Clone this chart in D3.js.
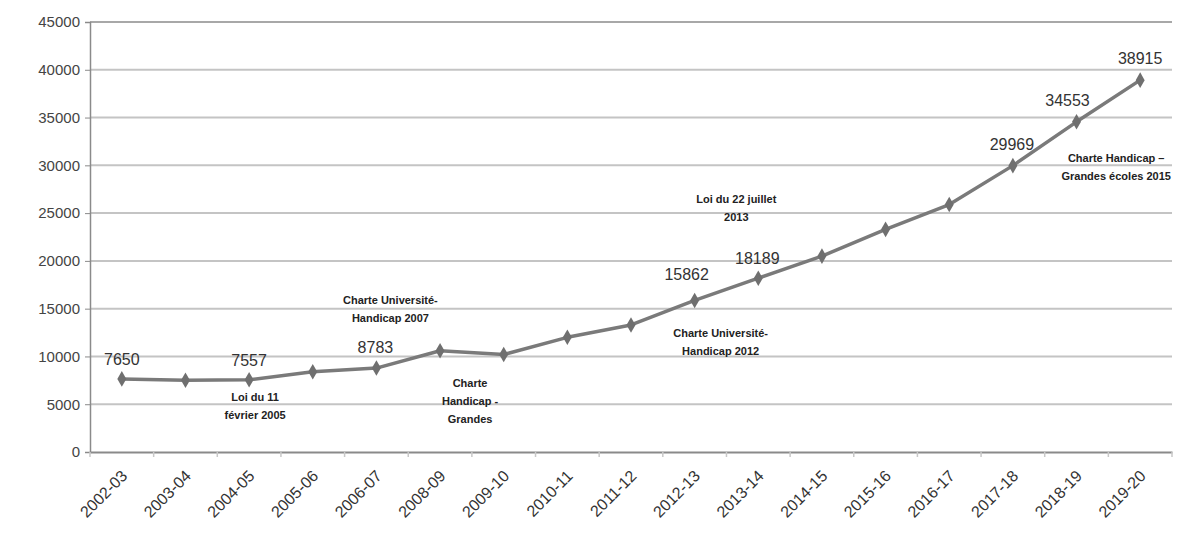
<!DOCTYPE html>
<html><head><meta charset="utf-8">
<script src="https://cdn.jsdelivr.net/npm/d3@7"></script>
<style>body{margin:0;background:#fff}svg{display:block}</style>
</head><body>
<svg id="c" width="1196" height="535"></svg>
<script>
const categories = ["2002-03","2003-04","2004-05","2005-06","2006-07","2008-09","2009-10","2010-11","2011-12","2012-13","2013-14","2014-15","2015-16","2016-17","2017-18","2018-19","2019-20"];
const values = [7650,7500,7557,8400,8783,10600,10200,12000,13300,15862,18189,20500,23300,25900,29969,34553,38915];
const labelled = ["2002-03","2004-05","2006-07","2012-13","2013-14","2017-18","2018-19","2019-20"];
const yTicks = [0,5000,10000,15000,20000,25000,30000,35000,40000,45000];
const annotations = [
  {at:"2004-05", lines:["Loi du 11","février 2005"], v:5300, dx:6},
  {at:"2006-07", lines:["Charte Université-","Handicap 2007"], v:15500, dx:14},
  {at:"2008-09", lines:["Charte","Handicap -","Grandes"], v:6800, dx:30},
  {at:"2012-13", lines:["Charte Université-","Handicap 2012"], v:12000, dx:26},
  {at:"2013-14", lines:["Loi du 22 juillet","2013"], v:26100, dx:-22},
  {at:"2019-20", lines:["Charte Handicap –","Grandes écoles 2015"], v:30300, dx:-24}
];
const labelOffsets = {"2002-03":[0,-14],"2004-05":[0,-14],"2006-07":[-1,-15],"2012-13":[-8,-20],"2013-14":[-1,-14],"2017-18":[-1,-16],"2018-19":[-9,-16],"2019-20":[0,-16]};

const svg = d3.select("#c");
const L=90,R=1172,T=22,B=452;
const x = d3.scalePoint().domain(categories).range([L,R]).padding(0.5);
const y = d3.scaleLinear().domain([0,45000]).range([B,T]);

svg.append("g").selectAll("line").data(yTicks.filter(d=>d>0)).join("line")
  .attr("x1",L).attr("x2",R).attr("y1",d=>y(d)).attr("y2",d=>y(d))
  .attr("stroke",d=>d===45000?"#a8a8a8":"#c4c4c4").attr("stroke-width",2);

const ya = svg.append("g").attr("transform",`translate(${L},0)`).call(d3.axisLeft(y).tickValues(yTicks).tickSize(5).tickFormat(d3.format("d")));
ya.select(".domain").attr("stroke","#8a8a8a").attr("stroke-width",1.5);
ya.selectAll(".tick line").attr("stroke","#8a8a8a");
ya.selectAll("text").attr("font-family","Liberation Sans, Arial, sans-serif").attr("font-size",15).attr("fill","#444").attr("x",-10);

const xa = svg.append("g").attr("transform",`translate(0,${B})`).call(d3.axisBottom(x).tickSize(0));
xa.select(".domain").attr("stroke","#8a8a8a").attr("stroke-width",2);
xa.selectAll(".tick text").attr("font-family","Liberation Sans, Arial, sans-serif").attr("font-size",16).attr("fill","#333")
  .attr("text-anchor","end").attr("dy",0).attr("y",0)
  .attr("transform","translate(6,25) rotate(-45)");
const step = x.step();
svg.append("g").selectAll("line").data(d3.range(categories.length+1)).join("line")
  .attr("x1",i=>L+i*step).attr("x2",i=>L+i*step).attr("y1",B).attr("y2",B+5)
  .attr("stroke","#c8c8c8").attr("stroke-width",1.5);

const line = d3.line().x((d,i)=>x(categories[i])).y(d=>y(d));
svg.append("path").datum(values).attr("d",line).attr("fill","none").attr("stroke","#7a7a7a").attr("stroke-width",3.5).attr("stroke-linejoin","round");
svg.append("g").selectAll("path").data(values).join("path")
  .attr("d",d3.symbol(d3.symbolDiamond,70))
  .attr("transform",(d,i)=>`translate(${x(categories[i])},${y(d)})`)
  .attr("fill","#6f6f6f");

svg.append("g").selectAll("text").data(labelled).join("text")
  .attr("x",c=>x(c)+labelOffsets[c][0])
  .attr("y",c=>y(values[categories.indexOf(c)])+labelOffsets[c][1])
  .attr("text-anchor","middle").attr("font-family","Liberation Sans, Arial, sans-serif")
  .attr("font-size",16).attr("fill","#333")
  .text(c=>values[categories.indexOf(c)]);

const ag = svg.append("g");
annotations.forEach(a=>{
  const t = ag.append("text").attr("text-anchor","middle")
    .attr("font-family","Liberation Sans, Arial, sans-serif").attr("font-weight","bold")
    .attr("font-size",11).attr("fill","#222");
  a.lines.forEach((s,i)=>t.append("tspan").attr("x",x(a.at)+a.dx).attr("y",y(a.v)+i*18).text(s));
});
</script>
</body></html>
